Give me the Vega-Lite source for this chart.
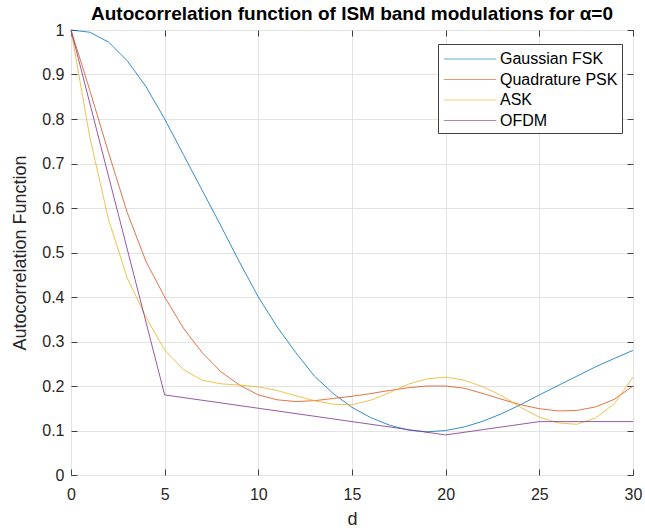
{
  "$schema": "https://vega.github.io/schema/vega-lite/v6.json",
  "width": 562,
  "height": 445,
  "autosize": {"type": "none"},
  "padding": {"left": 71, "top": 30, "right": 12, "bottom": 57},
  "background": "white",
  "config": {
    "font": "Liberation Sans",
    "view": {"stroke": "#404040", "strokeWidth": 1},
    "axis": {
      "domain": false,
      "grid": true,
      "gridColor": "#e3e3e3",
      "tickColor": "#404040",
      "tickSize": -6,
      "labelFlush": false,
      "labelColor": "#262626",
      "labelFontSize": 16,
      "labelFont": "Liberation Sans",
      "titleFont": "Liberation Sans",
      "titleFontSize": 18,
      "titleFontWeight": "normal",
      "titleColor": "#262626"
    }
  },
  "title": {
    "text": "Autocorrelation function of ISM band modulations for α=0",
    "fontSize": 19,
    "fontWeight": "bold",
    "font": "Liberation Sans",
    "color": "#000000",
    "anchor": "middle",
    "offset": -2
  },
  "data": {
    "values": [
      {"d": 0, "v": 1.0, "s": "Gaussian FSK"},
      {"d": 1, "v": 0.995, "s": "Gaussian FSK"},
      {"d": 2, "v": 0.973, "s": "Gaussian FSK"},
      {"d": 3, "v": 0.931, "s": "Gaussian FSK"},
      {"d": 4, "v": 0.873, "s": "Gaussian FSK"},
      {"d": 5, "v": 0.8, "s": "Gaussian FSK"},
      {"d": 6, "v": 0.72, "s": "Gaussian FSK"},
      {"d": 7, "v": 0.64, "s": "Gaussian FSK"},
      {"d": 8, "v": 0.56, "s": "Gaussian FSK"},
      {"d": 9, "v": 0.478, "s": "Gaussian FSK"},
      {"d": 10, "v": 0.4, "s": "Gaussian FSK"},
      {"d": 11, "v": 0.333, "s": "Gaussian FSK"},
      {"d": 12, "v": 0.275, "s": "Gaussian FSK"},
      {"d": 13, "v": 0.222, "s": "Gaussian FSK"},
      {"d": 14, "v": 0.183, "s": "Gaussian FSK"},
      {"d": 15, "v": 0.152, "s": "Gaussian FSK"},
      {"d": 16, "v": 0.129, "s": "Gaussian FSK"},
      {"d": 17, "v": 0.112, "s": "Gaussian FSK"},
      {"d": 18, "v": 0.101, "s": "Gaussian FSK"},
      {"d": 19, "v": 0.097, "s": "Gaussian FSK"},
      {"d": 20, "v": 0.1, "s": "Gaussian FSK"},
      {"d": 21, "v": 0.108, "s": "Gaussian FSK"},
      {"d": 22, "v": 0.121, "s": "Gaussian FSK"},
      {"d": 23, "v": 0.138, "s": "Gaussian FSK"},
      {"d": 24, "v": 0.158, "s": "Gaussian FSK"},
      {"d": 25, "v": 0.18, "s": "Gaussian FSK"},
      {"d": 26, "v": 0.201, "s": "Gaussian FSK"},
      {"d": 27, "v": 0.222, "s": "Gaussian FSK"},
      {"d": 28, "v": 0.243, "s": "Gaussian FSK"},
      {"d": 29, "v": 0.262, "s": "Gaussian FSK"},
      {"d": 30, "v": 0.28, "s": "Gaussian FSK"},
      {"d": 0, "v": 1.0, "s": "Quadrature PSK"},
      {"d": 1, "v": 0.865, "s": "Quadrature PSK"},
      {"d": 2, "v": 0.725, "s": "Quadrature PSK"},
      {"d": 3, "v": 0.59, "s": "Quadrature PSK"},
      {"d": 4, "v": 0.48, "s": "Quadrature PSK"},
      {"d": 5, "v": 0.4, "s": "Quadrature PSK"},
      {"d": 6, "v": 0.33, "s": "Quadrature PSK"},
      {"d": 7, "v": 0.275, "s": "Quadrature PSK"},
      {"d": 8, "v": 0.232, "s": "Quadrature PSK"},
      {"d": 9, "v": 0.202, "s": "Quadrature PSK"},
      {"d": 10, "v": 0.18, "s": "Quadrature PSK"},
      {"d": 11, "v": 0.169, "s": "Quadrature PSK"},
      {"d": 12, "v": 0.165, "s": "Quadrature PSK"},
      {"d": 13, "v": 0.167, "s": "Quadrature PSK"},
      {"d": 14, "v": 0.172, "s": "Quadrature PSK"},
      {"d": 15, "v": 0.177, "s": "Quadrature PSK"},
      {"d": 16, "v": 0.183, "s": "Quadrature PSK"},
      {"d": 17, "v": 0.19, "s": "Quadrature PSK"},
      {"d": 18, "v": 0.196, "s": "Quadrature PSK"},
      {"d": 19, "v": 0.2, "s": "Quadrature PSK"},
      {"d": 20, "v": 0.2, "s": "Quadrature PSK"},
      {"d": 21, "v": 0.195, "s": "Quadrature PSK"},
      {"d": 22, "v": 0.183, "s": "Quadrature PSK"},
      {"d": 23, "v": 0.17, "s": "Quadrature PSK"},
      {"d": 24, "v": 0.158, "s": "Quadrature PSK"},
      {"d": 25, "v": 0.149, "s": "Quadrature PSK"},
      {"d": 26, "v": 0.144, "s": "Quadrature PSK"},
      {"d": 27, "v": 0.145, "s": "Quadrature PSK"},
      {"d": 28, "v": 0.153, "s": "Quadrature PSK"},
      {"d": 29, "v": 0.17, "s": "Quadrature PSK"},
      {"d": 30, "v": 0.2, "s": "Quadrature PSK"},
      {"d": 0, "v": 1.0, "s": "ASK"},
      {"d": 1, "v": 0.76, "s": "ASK"},
      {"d": 2, "v": 0.575, "s": "ASK"},
      {"d": 3, "v": 0.443, "s": "ASK"},
      {"d": 4, "v": 0.355, "s": "ASK"},
      {"d": 5, "v": 0.281, "s": "ASK"},
      {"d": 6, "v": 0.237, "s": "ASK"},
      {"d": 7, "v": 0.213, "s": "ASK"},
      {"d": 8, "v": 0.205, "s": "ASK"},
      {"d": 9, "v": 0.202, "s": "ASK"},
      {"d": 10, "v": 0.198, "s": "ASK"},
      {"d": 11, "v": 0.19, "s": "ASK"},
      {"d": 12, "v": 0.178, "s": "ASK"},
      {"d": 13, "v": 0.167, "s": "ASK"},
      {"d": 14, "v": 0.159, "s": "ASK"},
      {"d": 15, "v": 0.158, "s": "ASK"},
      {"d": 16, "v": 0.168, "s": "ASK"},
      {"d": 17, "v": 0.185, "s": "ASK"},
      {"d": 18, "v": 0.204, "s": "ASK"},
      {"d": 19, "v": 0.216, "s": "ASK"},
      {"d": 20, "v": 0.22, "s": "ASK"},
      {"d": 21, "v": 0.213, "s": "ASK"},
      {"d": 22, "v": 0.198, "s": "ASK"},
      {"d": 23, "v": 0.178, "s": "ASK"},
      {"d": 24, "v": 0.152, "s": "ASK"},
      {"d": 25, "v": 0.13, "s": "ASK"},
      {"d": 26, "v": 0.117, "s": "ASK"},
      {"d": 27, "v": 0.114, "s": "ASK"},
      {"d": 28, "v": 0.128, "s": "ASK"},
      {"d": 29, "v": 0.16, "s": "ASK"},
      {"d": 30, "v": 0.22, "s": "ASK"},
      {"d": 0, "v": 1.0, "s": "OFDM"},
      {"d": 5, "v": 0.18, "s": "OFDM"},
      {"d": 10, "v": 0.15, "s": "OFDM"},
      {"d": 15, "v": 0.12, "s": "OFDM"},
      {"d": 20, "v": 0.09, "s": "OFDM"},
      {"d": 25, "v": 0.12, "s": "OFDM"},
      {"d": 30, "v": 0.12, "s": "OFDM"}
    ]
  },
  "layer": [
    {
      "mark": {"type": "line", "strokeWidth": 1, "strokeOpacity": 0.8},
      "encoding": {
        "x": {
          "field": "d", "type": "quantitative",
          "scale": {"domain": [0, 30], "nice": false},
          "axis": {"values": [0, 5, 10, 15, 20, 25, 30], "title": "d", "labelPadding": 17, "titlePadding": 8}
        },
        "y": {
          "field": "v", "type": "quantitative",
          "scale": {"domain": [0, 1], "nice": false},
          "axis": {"values": [0, 0.1, 0.2, 0.3, 0.4, 0.5, 0.6, 0.7, 0.8, 0.9, 1], "format": "~g", "title": "Autocorrelation Function", "labelPadding": 13, "titlePadding": 12}
        },
        "color": {
          "field": "s", "type": "nominal",
          "scale": {"domain": ["Gaussian FSK", "Quadrature PSK", "ASK", "OFDM"], "range": ["#0072BD", "#D95319", "#EDB120", "#7E2F8E"]},
          "legend": {
            "title": null,
            "orient": "none",
            "legendX": 367,
            "legendY": 14,
            "padding": 4,
            "strokeColor": "#404040",
            "fillColor": "white",
            "symbolType": "M-2.5,0H2.5",
            "symbolSize": 441,
            "symbolOffset": 17,
            "symbolStrokeWidth": 1,
            "labelFontSize": 16,
            "labelFont": "Liberation Sans",
            "labelColor": "#000000",
            "labelOffset": 19,
            "rowPadding": 1.5,
            "encode": {"symbols": {"update": {"stroke": {"scale": "color", "field": "value"}, "strokeWidth": {"value": 1}, "strokeOpacity": {"value": 0.6}}}}
          }
        }
      }
    },
    {
      "mark": {"type": "point", "opacity": 0},
      "encoding": {
        "x": {"field": "d", "type": "quantitative", "axis": {"orient": "top", "values": [0, 5, 10, 15, 20, 25, 30], "labels": false, "grid": false, "title": null}},
        "y": {"field": "v", "type": "quantitative", "axis": {"orient": "right", "values": [0, 0.1, 0.2, 0.3, 0.4, 0.5, 0.6, 0.7, 0.8, 0.9, 1], "labels": false, "grid": false, "title": null}}
      }
    }
  ],
  "resolve": {"axis": {"x": "independent", "y": "independent"}}
}
